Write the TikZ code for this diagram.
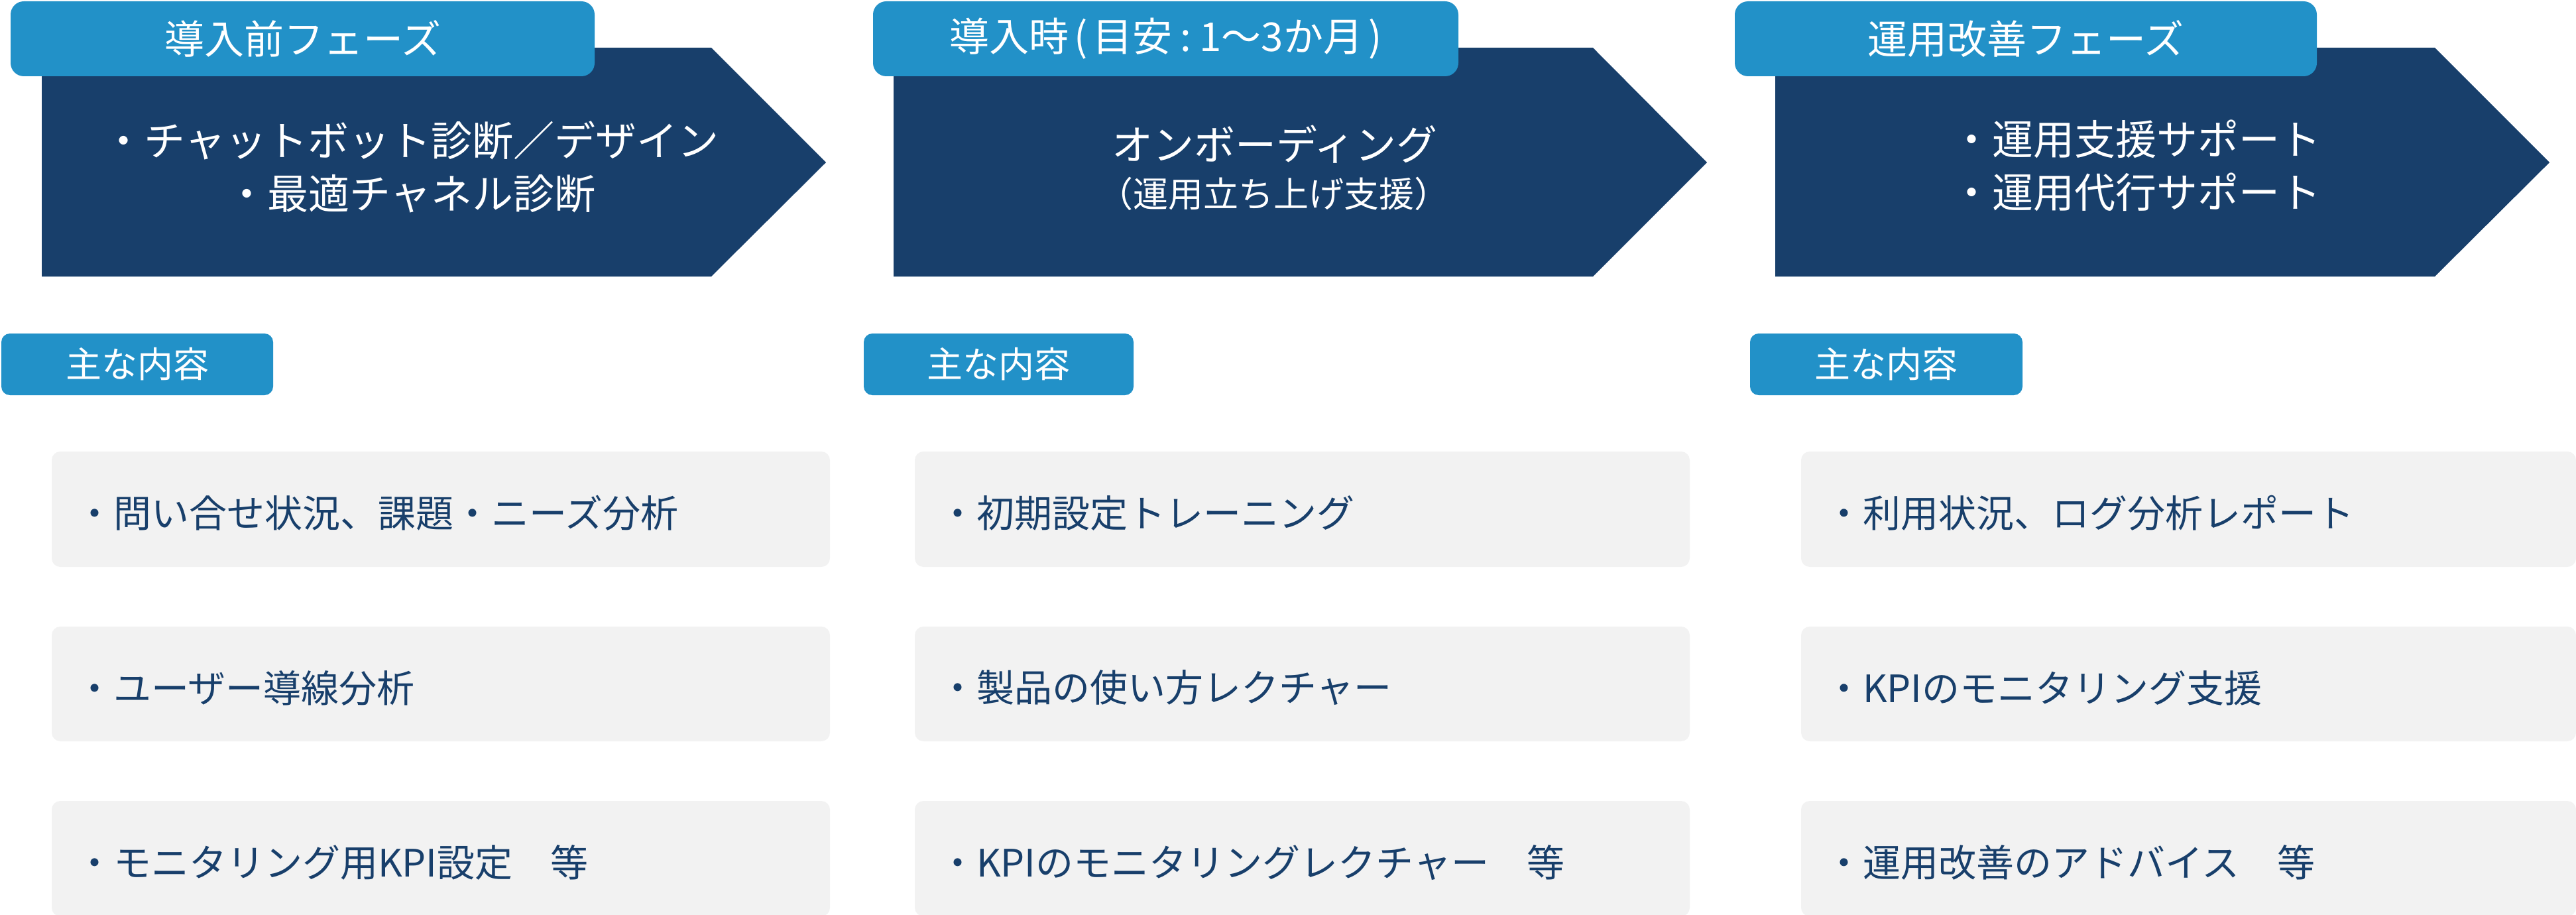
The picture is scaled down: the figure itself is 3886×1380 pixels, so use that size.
\documentclass[tikz,border=0pt]{standalone}
\usepackage{fontspec}
\setmainfont{Noto Sans CJK JP}
\definecolor{navy}{HTML}{183F6B}
\definecolor{skyblue}{HTML}{2291C8}
\definecolor{boxgray}{HTML}{F2F2F2}
\tikzset{
  phasearrow/.style={fill=navy},
  phaselabel/.style={fill=skyblue, rounded corners=20pt, text=white, inner sep=0pt, anchor=center, font=\fontsize{60}{72}\selectfont},
  contentlabel/.style={fill=skyblue, rounded corners=13pt, text=white, inner sep=0pt, font=\fontsize{54}{64}\selectfont},
  itembox/.style={fill=boxgray, rounded corners=13pt, inner sep=0pt},
  itemtext/.style={text=navy, anchor=west, inner sep=0pt, font=\fontsize{57}{68}\selectfont},
  bodytext/.style={text=white, align=center, inner sep=0pt, font=\fontsize{62}{80}\selectfont},
}
\begin{document}
\begin{tikzpicture}[x=1pt,y=-1pt]
\useasboundingbox (0,0) rectangle (3886,1380);
% phase arrows
\fill[phasearrow] (63,72) -- (1073,72) -- (1246,245) -- (1073,417) -- (63,417) -- cycle;
\fill[phasearrow] (1348,72) -- (2403,72) -- (2575,245) -- (2403,417) -- (1348,417) -- cycle;
\fill[phasearrow] (2678,72) -- (3673,72) -- (3846,245) -- (3673,417) -- (2678,417) -- cycle;
% phase labels
\node[phaselabel, minimum width=881, minimum height=113] (l1) at (456.5,58.5) {導入前フェーズ};
\node[phaselabel, minimum width=883, minimum height=113] (l2) at (1758.5,58.5) {導入時\kern8pt(\kern8pt目安\kern12pt:\kern12pt1～3か月\kern8pt)};
\node[phaselabel, minimum width=878, minimum height=113] (l3) at (3056,58.5) {運用改善フェーズ};
% body texts
\node[bodytext] (b1) at (620,252) {・チャットボット診断／デザイン\\・最適チャネル診断};
\node[bodytext] (b2a) at (1923,218) {オンボーディング};
\node[bodytext, font=\fontsize{53}{64}\selectfont] (b2b) at (1921,292) {（運用立ち上げ支援）};
\node[bodytext] (b3) at (3222,250) {・運用支援サポート\\・運用代行サポート};
% content labels
\node[contentlabel, minimum width=410, minimum height=93] (c1) at (207,549.5) {主な内容};
\node[contentlabel, minimum width=407, minimum height=93] (c2) at (1506.5,549.5) {主な内容};
\node[contentlabel, minimum width=411, minimum height=93] (c3) at (2845.5,549.5) {主な内容};
% item boxes column 1
\node[itembox, minimum width=1174, minimum height=174] (g11) at (665,768) {};
\node[itembox, minimum width=1174, minimum height=173] (g12) at (665,1031.5) {};
\node[itembox, minimum width=1174, minimum height=174] (g13) at (665,1295) {};
% column 2
\node[itembox, minimum width=1169, minimum height=174] (g21) at (1964.5,768) {};
\node[itembox, minimum width=1169, minimum height=173] (g22) at (1964.5,1031.5) {};
\node[itembox, minimum width=1169, minimum height=174] (g23) at (1964.5,1295) {};
% column 3
\node[itembox, minimum width=1169, minimum height=174] (g31) at (3301.5,768) {};
\node[itembox, minimum width=1169, minimum height=173] (g32) at (3301.5,1031.5) {};
\node[itembox, minimum width=1169, minimum height=174] (g33) at (3301.5,1295) {};
% item texts
\node[itemtext] (t11) at ([xshift=36pt,yshift=-6pt]g11.west) {・問い合せ状況、課題・ニーズ分析};
\node[itemtext] (t12) at ([xshift=36pt,yshift=-6pt]g12.west) {・ユーザー導線分析};
\node[itemtext] (t13) at ([xshift=36pt,yshift=-6pt]g13.west) {・モニタリング用KPI設定　等};
\node[itemtext] (t21) at ([xshift=36pt,yshift=-6pt]g21.west) {・初期設定トレーニング};
\node[itemtext] (t22) at ([xshift=36pt,yshift=-6pt]g22.west) {・製品の使い方レクチャー};
\node[itemtext] (t23) at ([xshift=36pt,yshift=-6pt]g23.west) {・KPIのモニタリングレクチャー　等};
\node[itemtext] (t31) at ([xshift=36pt,yshift=-6pt]g31.west) {・利用状況、ログ分析レポート};
\node[itemtext] (t32) at ([xshift=36pt,yshift=-6pt]g32.west) {・KPIのモニタリング支援};
\node[itemtext] (t33) at ([xshift=36pt,yshift=-6pt]g33.west) {・運用改善のアドバイス　等};
\end{tikzpicture}
\end{document}
